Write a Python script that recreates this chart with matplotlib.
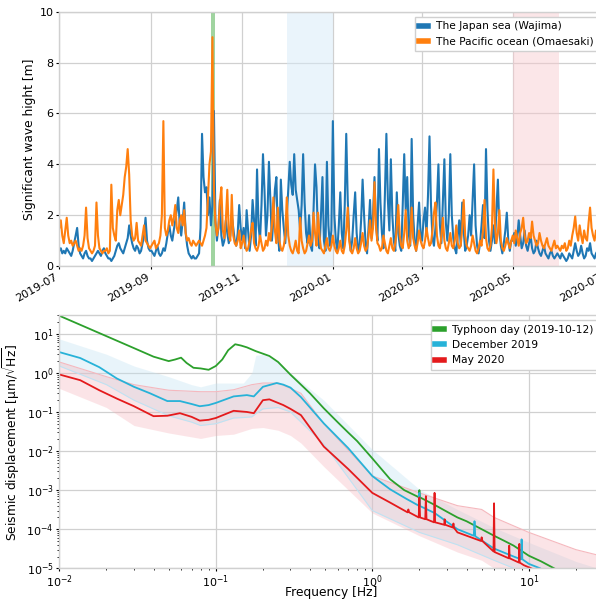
import numpy as np
import pandas as pd
import matplotlib
matplotlib.use("Agg")
import matplotlib.pyplot as plt
import matplotlib.dates as mdates

# --- daily significant wave height [m], 2019-07-01 .. 2020-06-30 (one row per month) ---
wajima = (
    [0.6,0.7,0.5,0.6,0.5,0.7,0.6,0.5,0.4,0.6,0.9,1.2,1.5,0.8,0.5,0.4,0.3,0.5,0.6,0.4,0.3,0.3,0.2,0.3,0.4,0.5,0.6,0.5,0.4,0.6,0.7]
  + [0.5,0.4,0.3,0.3,0.2,0.3,0.4,0.6,0.8,0.9,0.7,0.6,0.5,0.7,0.9,1.1,1.6,1.2,0.9,0.7,0.6,0.8,0.7,0.5,0.6,0.9,1.2,1.9,1.0,0.7,0.6]
  + [0.6,0.5,0.4,0.6,0.8,0.5,0.4,0.5,0.7,0.6,0.9,1.3,1.6,1.2,1.0,1.4,1.8,2.2,2.7,1.6,1.2,1.8,2.5,1.3,0.8,0.5,0.4,0.3,0.4,0.3]
  + [0.3,0.4,0.5,1.5,5.2,3.5,2.9,3.1,2.0,2.7,1.6,2.4,6.1,1.8,1.0,1.5,2.6,1.2,0.8,1.0,1.8,1.3,0.9,1.2,2.0,1.5,1.0,0.8,1.3,2.4,1.5]
  + [1.0,1.5,0.7,2.2,1.4,0.6,1.2,2.6,1.8,0.8,3.8,1.6,1.0,2.4,4.4,3.0,1.2,2.0,4.1,2.5,1.0,1.8,3.0,3.5,1.2,0.6,3.4,2.2,1.5,0.9]
  + [2.0,3.0,4.1,3.2,2.8,4.4,3.0,2.6,2.2,1.4,2.4,4.4,2.5,1.3,0.9,2.0,0.8,0.6,2.2,4.0,3.1,1.2,0.7,2.0,3.5,1.0,0.6,4.1,1.6,0.8,1.4]
  + [5.7,2.0,1.0,0.6,1.6,2.9,1.3,0.7,2.4,5.2,2.6,1.2,0.6,1.0,2.0,2.9,1.3,0.6,0.8,1.8,3.4,2.0,0.9,0.5,1.5,2.6,1.1,2.0,3.5,1.6,1.0]
  + [4.6,2.5,1.3,0.7,2.8,5.2,2.6,1.4,4.2,2.0,1.0,0.6,2.9,1.3,0.8,0.6,2.4,4.4,2.2,3.5,1.3,0.8,5.0,2.0,1.0,0.6,1.6,2.5,1.3]
  + [1.0,1.8,2.3,1.2,2.8,5.1,2.4,1.1,0.8,1.5,2.5,4.0,1.6,0.9,2.6,4.2,1.7,1.0,2.0,4.4,2.0,1.1,0.7,0.5,1.2,1.8,0.8,2.5,1.4,0.6,0.8]
  + [1.2,2.0,1.2,2.6,4.0,1.6,0.8,0.5,0.9,1.6,2.4,1.1,4.6,2.2,1.0,0.6,1.0,1.6,0.9,2.2,3.4,1.4,0.8,0.5,0.9,1.4,2.1,1.0,0.6,1.0]
  + [1.0,1.3,0.8,1.1,1.8,1.2,0.7,0.9,1.4,0.8,0.6,0.9,1.2,0.7,0.5,0.6,1.0,0.7,0.5,0.4,0.6,0.8,0.5,0.4,0.3,0.5,0.6,0.4,0.3,0.4,0.5]
  + [0.4,0.3,0.5,0.4,0.3,0.2,0.3,0.5,0.4,0.3,0.6,0.9,0.6,0.4,0.5,0.8,0.5,0.3,0.4,0.7,0.6,0.9,0.5,0.4,0.3,0.5,0.6,0.4,0.5,0.4]
)
omaesaki = (
    [1.5,1.8,1.2,0.9,1.4,1.9,1.2,0.9,1.0,0.8,0.9,1.0,0.8,0.6,0.7,0.6,0.8,1.2,2.3,1.1,0.7,0.6,0.5,0.6,0.8,2.5,1.2,0.7,0.6,0.5,0.6]
  + [0.6,0.7,0.5,0.6,3.2,1.5,1.2,1.0,2.2,2.6,2.0,2.4,2.8,3.5,3.9,4.6,3.6,1.8,1.2,1.0,1.1,1.7,1.0,0.9,0.8,1.2,1.6,1.0,0.9,0.8,0.7]
  + [0.8,0.9,1.0,0.7,0.8,0.9,1.2,2.0,5.7,1.5,1.2,1.4,1.8,2.0,1.6,1.9,2.4,1.5,1.3,1.8,2.0,1.6,2.2,1.3,1.0,1.1,0.9,0.8,1.0,0.9]
  + [0.8,0.9,1.0,0.9,0.8,1.0,1.2,1.5,2.7,4.0,4.5,9.0,3.0,1.7,1.2,1.5,2.5,3.1,1.4,1.1,1.8,3.0,1.3,1.0,2.8,1.2,0.9,0.8,1.0,1.4,0.7]
  + [0.9,1.2,0.8,0.6,0.7,1.0,1.4,1.7,0.9,0.7,0.6,0.8,1.2,0.9,0.6,0.7,1.0,0.8,1.3,1.0,1.6,2.7,1.4,0.9,2.3,1.0,0.7,0.6,0.8,1.2]
  + [2.7,1.2,0.8,0.6,0.5,0.7,1.0,0.6,0.5,1.9,1.0,0.7,0.5,0.6,0.9,1.2,0.8,1.0,2.1,1.3,0.8,2.1,1.2,0.7,0.6,0.5,0.8,1.1,0.7,0.6,0.8]
  + [1.2,0.8,0.6,0.5,0.7,1.0,0.6,0.5,0.8,1.4,2.3,1.0,0.6,0.5,0.7,1.1,0.7,0.5,0.6,0.9,1.3,0.8,0.6,0.7,1.2,1.8,1.0,1.5,3.3,1.6,0.9]
  + [0.8,0.6,0.7,1.2,0.9,0.6,0.5,0.8,1.1,0.7,0.6,0.9,1.5,2.4,1.2,0.8,0.7,1.3,2.2,1.0,0.7,0.9,2.3,1.1,0.8,0.6,0.9,1.4,1.0]
  + [0.8,0.7,1.0,1.5,1.1,0.8,0.9,1.4,2.1,2.5,1.2,0.8,0.7,1.2,1.9,1.0,0.7,0.6,0.9,1.3,0.8,0.7,1.0,1.6,0.9,0.7,0.8,1.5,2.6,1.2,0.8]
  + [0.7,0.6,0.8,1.2,0.9,0.6,0.5,0.7,1.0,0.8,1.4,2.6,1.1,0.7,0.6,0.8,1.5,3.8,1.6,0.9,1.3,2.2,1.0,0.7,0.6,0.8,1.1,0.9,0.7,1.0]
  + [1.2,0.9,1.4,1.1,0.8,1.3,1.5,1.9,1.2,0.9,1.0,1.3,1.1,1.75,1.2,1.0,0.8,0.9,1.3,1.0,0.8,0.7,0.9,1.1,0.8,0.7,0.6,0.8,1.0,0.7,0.8]
  + [0.7,0.6,0.8,0.7,0.9,0.6,0.7,1.0,0.8,1.2,1.5,1.95,1.3,1.0,1.6,1.2,0.9,1.4,1.1,1.0,1.7,2.3,1.5,1.2,1.0,1.4,1.1,0.9,1.0,0.8]
)

# --- displacement spectra [um/sqrt(Hz)] ---
typhoon_f = [0.01,0.02,0.03,0.04,0.05,0.055,0.06,0.065,0.072,0.08,0.09,0.1,0.11,0.12,0.133,0.145,0.158,0.18,0.2,0.22,
             0.25,0.3,0.35,0.4,0.49,0.6,0.7,0.8,1.0,1.3,1.6,1.98,2.0,2.02,2.5,3.0,3.5,4.0,5.0,6.0,7.0,8.0,10.0,12.0,14.5,16.0]
typhoon_v = [29,8.7,4.3,2.6,2.0,2.2,2.45,1.8,1.35,1.3,1.2,1.5,2.2,3.8,5.4,5.0,4.5,3.6,3.1,2.7,
             1.9,0.9,0.5,0.3,0.124,0.055,0.03,0.018,0.0065,0.0019,0.001,6.6e-4,1.0e-3,6.5e-4,4.2e-4,2.8e-4,2.0e-4,1.6e-4,1.0e-4,6.8e-5,5.0e-5,3.8e-5,2.1e-5,1.5e-5,1.0e-5,8e-6]
dec_f = [0.01,0.0136,0.018,0.0233,0.03,0.038,0.049,0.059,0.07,0.079,0.09,0.1,0.13,0.158,0.175,0.2,0.245,0.27,0.3,0.35,0.49,0.7,
         1.0,1.3,1.65,1.98,2.0,2.02,2.5,3.5,4.45,4.5,4.55,6.0,8.0,8.9,9.0,9.1,10.0,11.8,13.0]
dec_v = [3.4,2.4,1.4,0.72,0.44,0.30,0.19,0.19,0.16,0.14,0.15,0.17,0.25,0.27,0.25,0.44,0.55,0.5,0.42,0.24,0.051,0.012,
         0.0023,0.00105,6.0e-4,4.0e-4,8.5e-4,3.9e-4,2.6e-4,1.0e-4,6.8e-5,1.6e-4,6.6e-5,3.2e-5,2.0e-5,1.7e-5,5.5e-5,1.7e-5,1.3e-5,1.0e-5,8e-6]
may_f = [0.01,0.0136,0.018,0.0233,0.03,0.04,0.049,0.059,0.07,0.079,0.09,0.1,0.13,0.158,0.175,0.2,0.22,0.27,0.3,0.35,0.49,0.7,
         1.0,1.3,1.68,1.7,1.72,1.98,2.0,2.02,2.18,2.2,2.22,2.48,2.5,2.52,2.88,2.9,2.92,3.28,3.3,3.32,3.5,
         4.95,5.0,5.05,5.95,6.0,6.05,7.45,7.5,7.55,8.65,8.7,8.75,9.3,11.0]
may_v = [0.91,0.65,0.36,0.22,0.14,0.078,0.08,0.093,0.075,0.06,0.063,0.07,0.107,0.1,0.093,0.2,0.21,0.15,0.12,0.083,0.013,0.0035,
         8.5e-4,4.8e-4,2.7e-4,3.2e-4,2.7e-4,2.0e-4,6.5e-4,2.0e-4,1.8e-4,7.0e-4,1.8e-4,1.5e-4,8.5e-4,1.5e-4,1.3e-4,1.8e-4,1.3e-4,1.1e-4,1.4e-4,1.1e-4,8.3e-5,
         5.0e-5,6.2e-5,5.0e-5,2.7e-5,4.6e-4,2.6e-5,1.8e-5,3.8e-5,1.8e-5,1.4e-5,4.2e-5,1.4e-5,1.2e-5,9e-6]

dec_band_f  = [0.01,0.02,0.03,0.05,0.07,0.08,0.1,0.13,0.15,0.17,0.18,0.2,0.25,0.3,0.49,1.0,2.0,3.5,6.0,10.0,20.0,30.0]
dec_band_hi = [7.4,3.0,1.5,0.8,0.5,0.44,0.55,0.55,0.55,1.0,2.8,3.0,2.0,1.0,0.2,0.011,0.00105,3.2e-4,1.1e-4,4.6e-5,1.5e-5,9e-6]
dec_band_lo = [1.5,0.5,0.2,0.08,0.055,0.045,0.05,0.07,0.072,0.075,0.09,0.12,0.13,0.1,0.015,3e-4,8.3e-5,4e-5,1.6e-5,7e-6,3e-6,2e-6]
may_band_f  = [0.01,0.02,0.03,0.05,0.08,0.1,0.13,0.17,0.2,0.25,0.3,0.35,0.49,1.0,2.0,3.5,5.0,6.0,10.0,20.0,30.0]
may_band_hi = [1.9,0.8,0.5,0.36,0.33,0.33,0.37,0.5,0.55,0.55,0.4,0.3,0.05,0.0023,8.5e-4,4e-4,3.2e-4,2e-4,8.3e-5,3e-5,2e-5]
may_band_lo = [0.4,0.13,0.045,0.029,0.021,0.025,0.027,0.038,0.04,0.034,0.025,0.016,0.004,2.6e-4,6.8e-5,2.6e-5,1.6e-5,1e-5,5e-6,2.5e-6,2e-6]

GRID = "#d0d0d0"
BLUE, ORANGE = "#1f77b4", "#ff7f0e"
GREEN, CYAN, RED = "#2ca02c", "#27b2d8", "#e41a1c"

plt.rcParams.update({"font.family": "DejaVu Sans", "font.size": 8,
                     "axes.labelsize": 8.8, "xtick.labelsize": 8, "ytick.labelsize": 8,
                     "xtick.major.size": 2.5, "ytick.major.size": 2.5,
                     "xtick.minor.size": 1.5, "ytick.minor.size": 1.5,
                     "xtick.major.pad": 1.5, "ytick.major.pad": 1.5,
                     "axes.labelpad": 3.0,
                     "axes.edgecolor": GRID, "axes.linewidth": 1.0})

fig = plt.figure(figsize=(5.96, 6.02), dpi=100)
ax1 = fig.add_axes([0.0995, 0.558, 0.913, 0.4225])
ax2 = fig.add_axes([0.0995, 0.056, 0.913, 0.4205])

# ---------- top: wave height ----------
days = pd.date_range("2019-07-01", periods=len(wajima), freq="D")
ax1.axvspan(pd.Timestamp("2019-10-11"), pd.Timestamp("2019-10-14"), color=GREEN, alpha=0.45, lw=0)
ax1.axvspan(pd.Timestamp("2019-12-01"), pd.Timestamp("2020-01-01"), color="#d6eaf8", alpha=0.5, lw=0)
ax1.axvspan(pd.Timestamp("2020-05-01"), pd.Timestamp("2020-06-01"), color="#f8c8cc", alpha=0.45, lw=0)
ax1.plot(days, wajima, color=BLUE, lw=1.5, label="The Japan sea (Wajima)")
ax1.plot(days, omaesaki, color=ORANGE, lw=1.5, label="The Pacific ocean (Omaesaki)")
ax1.set_xlim(pd.Timestamp("2019-07-01"), pd.Timestamp("2020-07-01"))
ax1.set_ylim(0, 10)
ax1.xaxis.set_major_locator(mdates.MonthLocator(interval=2))
ax1.xaxis.set_major_formatter(mdates.DateFormatter("%Y-%m"))
for lab in ax1.get_xticklabels():
    lab.set_rotation(30); lab.set_ha("right")
ax1.set_ylabel("Significant wave hight [m]")
ax1.grid(True, color=GRID, lw=0.9)
ax1.set_axisbelow(True)
leg = ax1.legend(loc="upper right", handlelength=0.8, fontsize=7.7, framealpha=1, edgecolor=GRID, fancybox=False)
for h in leg.get_lines():
    h.set_linewidth(4)

# ---------- bottom: spectra ----------
ax2.fill_between(dec_band_f, dec_band_lo, dec_band_hi, color="#bfe2f2", alpha=0.35, lw=0)
ax2.fill_between(may_band_f, may_band_lo, may_band_hi, color="#f5a8b0", alpha=0.3, lw=0)
ax2.plot(dec_band_f, dec_band_lo, color="#bfe2f2", lw=0.8)
ax2.plot(may_band_f, may_band_hi, color="#f5b8be", lw=0.8)
ax2.plot(typhoon_f, typhoon_v, color=GREEN, lw=1.3, label="Typhoon day (2019-10-12)")
ax2.plot(dec_f, dec_v, color=CYAN, lw=1.3, label="December 2019")
ax2.plot(may_f, may_v, color=RED, lw=1.3, label="May 2020")
ax2.set_xscale("log"); ax2.set_yscale("log")
ax2.set_xlim(0.01, 30); ax2.set_ylim(1e-5, 30)
ax2.set_xlabel("Frequency [Hz]")
ax2.xaxis.set_label_coords(0.5, -0.069)
ax2.set_ylabel(r"Seismic displacement [μm/$\sqrt{\mathrm{Hz}}$]")
ax2.grid(True, which="major", color=GRID, lw=0.9)
ax2.set_axisbelow(True)
leg2 = ax2.legend(loc="upper right", handlelength=0.8, fontsize=7.7, framealpha=1, edgecolor=GRID, fancybox=False)
for h in leg2.get_lines():
    h.set_linewidth(4)

fig.savefig("out.png", dpi=100)
